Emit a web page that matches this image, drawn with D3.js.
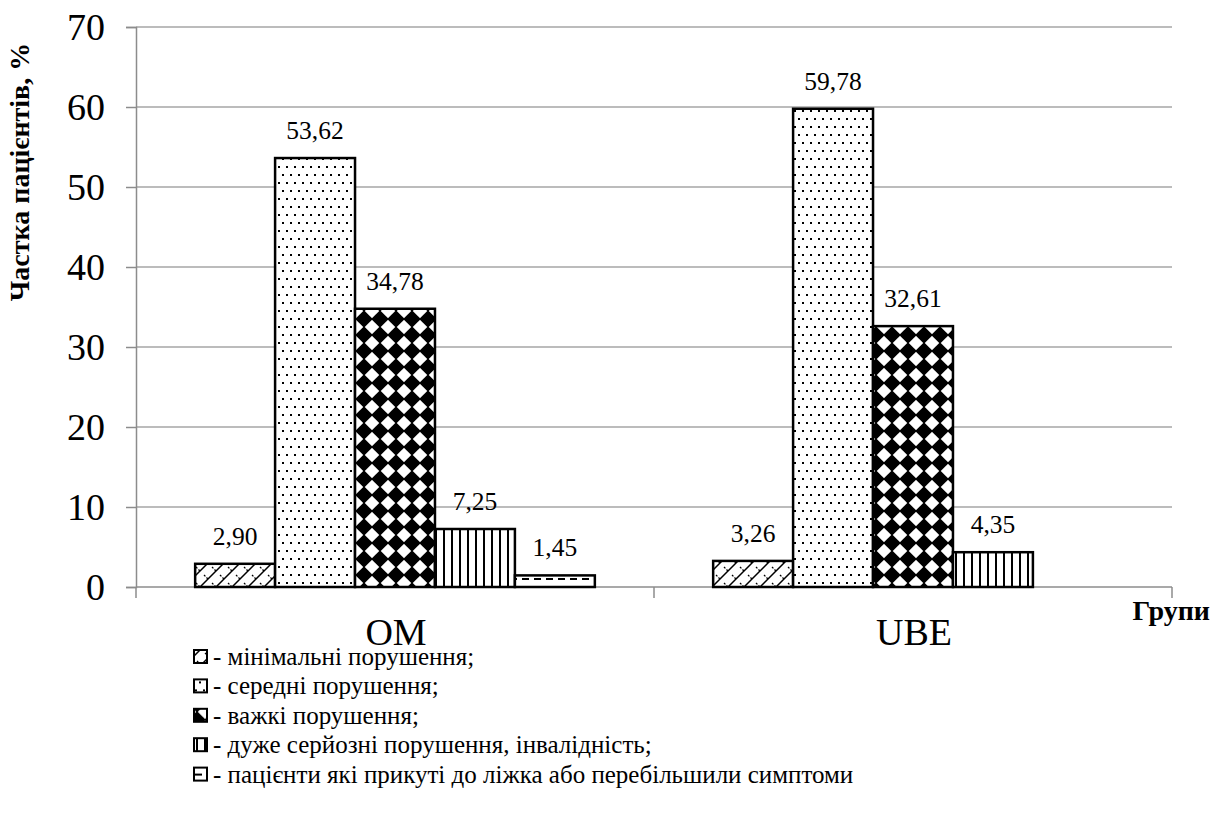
<!DOCTYPE html>
<html>
<head>
<meta charset="utf-8">
<script src="https://cdn.jsdelivr.net/npm/d3@7/dist/d3.min.js"></script>
</head>
<body style="margin:0;background:#fff">
<div style="font-family:'Liberation Serif';font-size:20px;position:absolute;left:0;top:0;width:1px;height:1px;overflow:hidden">&nbsp;</div>
<svg id="chart" width="1222" height="823"></svg>
<script>
// Groups and severity categories
const groups = ["OM", "UBE"];
const severities = [
  "мінімальні порушення;",
  "середні порушення;",
  "важкі порушення;",
  "дуже серйозні порушення, інвалідність;",
  "пацієнти які прикуті до ліжка або перебільшили симптоми"
];
// Share of patients, %, per group (null = no bar)
const valuesOM  = [2.90, 53.62, 34.78, 7.25, 1.45];
const valuesUBE = [3.26, 59.78, 32.61, 4.35, null];
const yTicks = [0, 10, 20, 30, 40, 50, 60, 70];
const yTitle = "Частка пацієнтів, %";
const xTitle = "Групи";

const series = [valuesOM, valuesUBE];
const fmt = v => v.toFixed(2).replace(".", ",");
const FONT = "Liberation Serif";

const svg = d3.select("#chart");
const margin = { left: 136, right: 50, top: 27, bottom: 236 };
const W = 1222, H = 823;
const plotW = W - margin.left - margin.right;
const plotH = H - margin.top - margin.bottom;

// ---- fill patterns ----
const defs = svg.append("defs");
// 0: diagonal trellis hatch
const p0 = defs.append("pattern").attr("id", "pat0").attr("patternUnits", "userSpaceOnUse")
  .attr("width", 16).attr("height", 16);
p0.append("rect").attr("width", 16).attr("height", 16).attr("fill", "#fff");
p0.append("path").attr("d", "M0,16 L16,0 M-4,4 L4,-4 M12,20 L20,12")
  .attr("stroke", "#000").attr("stroke-width", 1.5);
p0.append("path").attr("d", "M4,4 L8,8 M12,12 L16,16 M-4,12 L0,16")
  .attr("stroke", "#000").attr("stroke-width", 1.3).attr("stroke-dasharray", "2,1.5");
// 1: sparse dots
const p1 = defs.append("pattern").attr("id", "pat1").attr("patternUnits", "userSpaceOnUse")
  .attr("width", 8).attr("height", 16);
p1.append("rect").attr("width", 8).attr("height", 16).attr("fill", "#fff");
p1.append("rect").attr("x", 2).attr("y", 3).attr("width", 2).attr("height", 2).attr("fill", "#000");
p1.append("rect").attr("x", 6).attr("y", 11).attr("width", 2).attr("height", 2).attr("fill", "#000");
// 2: diamond checker
const p2 = defs.append("pattern").attr("id", "pat2").attr("patternUnits", "userSpaceOnUse")
  .attr("width", 16).attr("height", 16).attr("x", 4).attr("y", 4);
p2.append("rect").attr("width", 16).attr("height", 16).attr("fill", "#fff");
[[0,0],[16,0],[0,16],[16,16]].forEach(([cx, cy]) => {
  p2.append("path").attr("d", `M${cx},${cy-8.8} L${cx+8.8},${cy} L${cx},${cy+8.8} L${cx-8.8},${cy} Z`)
    .attr("fill", "#000");
});
// 3: vertical stripes
const p3 = defs.append("pattern").attr("id", "pat3").attr("patternUnits", "userSpaceOnUse")
  .attr("width", 8).attr("height", 8);
p3.append("rect").attr("width", 8).attr("height", 8).attr("fill", "#fff");
p3.append("rect").attr("x", 3).attr("y", 0).attr("width", 2).attr("height", 8).attr("fill", "#000");
// 4: dashed horizontal
const p4 = defs.append("pattern").attr("id", "pat4").attr("patternUnits", "userSpaceOnUse")
  .attr("width", 12).attr("height", 8).attr("y", 2);
p4.append("rect").attr("width", 12).attr("height", 8).attr("fill", "#fff");
p4.append("rect").attr("x", 2).attr("y", 5).attr("width", 7).attr("height", 2).attr("fill", "#000");

const g = svg.append("g").attr("transform", `translate(${margin.left},${margin.top})`);

// ---- scales ----
const y = d3.scaleLinear().domain([0, 70]).range([plotH, 0]);
const x0 = d3.scaleBand().domain(groups).range([0, plotW]).paddingInner(0).paddingOuter(0);
const x1 = d3.scaleBand().domain(d3.range(severities.length))
  .range([0, x0.bandwidth()]).paddingOuter(0.74).paddingInner(0);

// ---- gridlines ----
g.append("g").selectAll("line").data(yTicks.filter(t => t > 0)).join("line")
  .attr("x1", 0).attr("x2", plotW)
  .attr("y1", d => y(d)).attr("y2", d => y(d))
  .attr("stroke", "#a6a6a6").attr("stroke-width", 1.5);

// ---- y axis (lines from d3.axisLeft, labels drawn as plain text) ----
const yAxis = g.append("g").call(d3.axisLeft(y).tickValues(yTicks).tickSize(10).tickFormat(""));
yAxis.select(".domain").attr("stroke", "#8c8c8c").attr("stroke-width", 1.5);
yAxis.selectAll(".tick line").attr("stroke", "#8c8c8c").attr("stroke-width", 1.5);
g.append("g").selectAll("text").data(yTicks).join("text")
  .attr("font-family", FONT).attr("font-size", 38).attr("fill", "#000")
  .attr("x", -31).attr("y", d => y(d)).attr("dy", "0.34em")
  .attr("text-anchor", "end").text(d => d);

// ---- x axis ----
const xAxisG = g.append("g").attr("transform", `translate(0,${plotH})`);
xAxisG.append("line").attr("x1", 0).attr("x2", plotW).attr("stroke", "#8c8c8c").attr("stroke-width", 1.5);
const xTickPos = [0, x0.bandwidth(), plotW];
xAxisG.selectAll("line.tk").data(xTickPos).join("line").attr("class", "tk")
  .attr("x1", d => d).attr("x2", d => d).attr("y1", 0).attr("y2", 11)
  .attr("stroke", "#8c8c8c").attr("stroke-width", 1.5);
xAxisG.selectAll("text.cat").data(groups).join("text").attr("class", "cat")
  .attr("font-family", FONT)
  .attr("x", d => x0(d) + x0.bandwidth() / 2 + 1)
  .attr("y", 58).attr("text-anchor", "middle").attr("font-size", 38).text(d => d);

// ---- bars ----
const bars = [];
groups.forEach((grp, gi) => {
  series[gi].forEach((v, si) => { if (v != null) bars.push({ grp, si, v }); });
});
const bg = g.append("g");
bg.selectAll("rect").data(bars).join("rect")
  .attr("x", d => x0(d.grp) + x1(d.si))
  .attr("y", d => y(d.v))
  .attr("width", x1.bandwidth())
  .attr("height", d => plotH - y(d.v))
  .attr("fill", d => `url(#pat${d.si})`)
  .attr("stroke", "#000").attr("stroke-width", 2.5);

bg.selectAll("text").data(bars).join("text")
  .attr("font-family", FONT)
  .attr("x", d => x0(d.grp) + x1(d.si) + x1.bandwidth() / 2)
  .attr("y", d => y(d.v) - 19)
  .attr("text-anchor", "middle").attr("font-size", 25.5).text(d => fmt(d.v));

// ---- axis titles ----
svg.append("text")
  .attr("font-family", FONT)
  .attr("transform", `translate(29,${margin.top + 145}) rotate(-90)`)
  .attr("text-anchor", "middle").attr("font-size", 28).attr("font-weight", "bold")
  .text(yTitle);
svg.append("text").attr("font-family", FONT)
  .attr("x", 1210).attr("y", 620).attr("text-anchor", "end")
  .attr("font-size", 28).attr("font-weight", "bold").text(xTitle);

// ---- legend ----
const lg = svg.append("g").attr("transform", "translate(193,657)");
const li = lg.selectAll("g").data(severities).join("g")
  .attr("transform", (d, i) => `translate(0,${i * 29.4})`);
li.append("rect").attr("x", 1).attr("y", -7).attr("width", 13).attr("height", 13)
  .attr("fill", (d, i) => `url(#pat${i})`).attr("stroke", "#000").attr("stroke-width", 2);
li.append("text").attr("font-family", FONT).attr("x", 20).attr("y", 8).attr("font-size", 25)
  .text(d => "- " + d);
</script>
</body>
</html>
